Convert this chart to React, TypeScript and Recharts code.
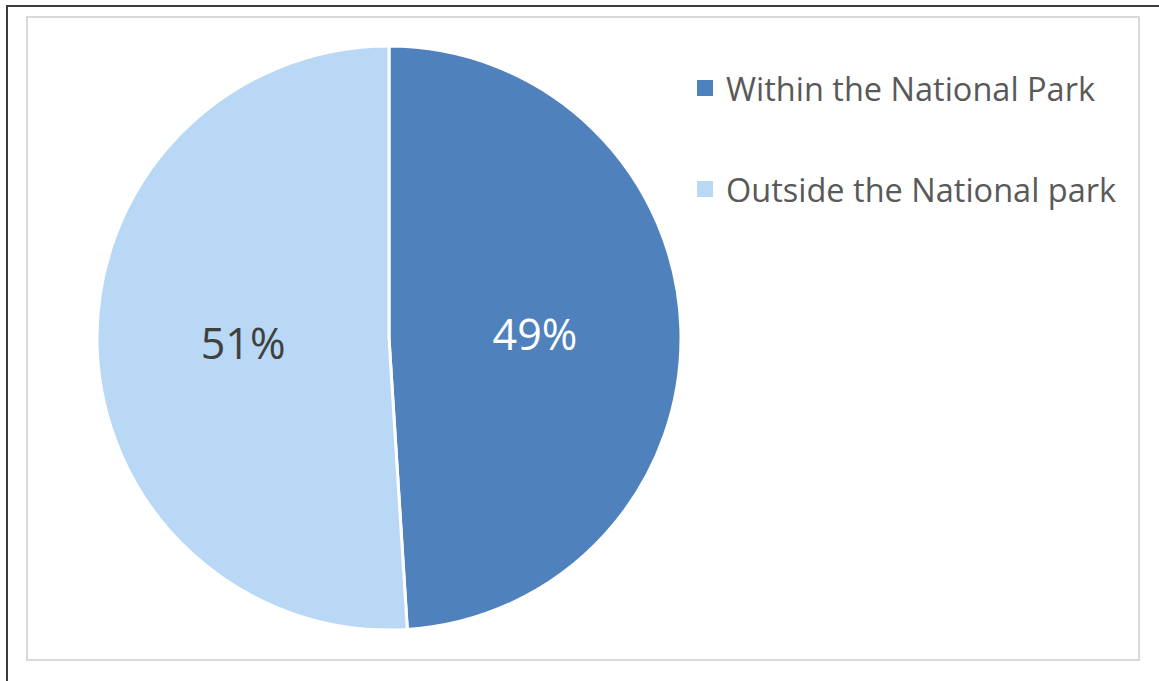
import { PieChart, Pie, Cell, Legend } from "recharts"

const categories = ["Within the National Park", "Outside the National park"]
const shares = [49, 51]
const sliceColors = ["#4F81BD", "#B8D8F5"]
const labelColors = ["#FFFFFF", "#404040"]

const data = categories.map((name, i) => ({ name, value: shares[i] }))

const RADIAN = Math.PI / 180
const FONT = "'Open Sans', 'Liberation Sans', sans-serif"

// percent labels sit halfway out from the centre, like the Excel original
const renderLabel = (props: any) => {
  const { cx, cy, midAngle, outerRadius, index, percent } = props
  const r = outerRadius * 0.5
  const x = cx + r * Math.cos(-midAngle * RADIAN)
  const y = cy + r * Math.sin(-midAngle * RADIAN)
  return (
    <text
      x={x}
      y={y}
      fill={labelColors[index]}
      textAnchor="middle"
      dominantBaseline="central"
      fontSize={43}
      fontFamily={FONT}
    >
      {`${Math.round(percent * 100)}%`}
    </text>
  )
}

const renderLegend = () => (
  <div style={{ fontFamily: FONT }}>
    {data.map((d, i) => (
      <div key={d.name} style={{ display: "flex", alignItems: "center", height: 50, marginBottom: i === 0 ? 51 : 0 }}>
        <span style={{ width: 16, height: 16, background: sliceColors[i], display: "inline-block", marginRight: 13, flexShrink: 0 }} />
        <span style={{ fontSize: 32.5, color: "#595959", whiteSpace: "nowrap" }}>{d.name}</span>
      </div>
    ))}
  </div>
)

export default function App() {
  return (
    <div style={{ position: "fixed", left: 0, top: 0, width: 1159, height: 681, background: "#fff", overflow: "hidden" }}>
      {/* outer frame, only top and left edges show */}
      <div
        style={{
          position: "absolute",
          left: 6,
          top: 5,
          width: 1153,
          height: 676,
          boxSizing: "border-box",
          borderTop: "2px solid #3c3c3c",
          borderLeft: "2px solid #3c3c3c",
        }}
      />
      <div
        style={{
          position: "absolute",
          left: 26,
          top: 16,
          width: 1114,
          height: 645,
          boxSizing: "border-box",
          border: "2px solid #d9d9d9",
          background: "#fff",
        }}
      >
        <PieChart width={1110} height={641}>
          <Pie
            data={data}
            dataKey="value"
            nameKey="name"
            cx={356}
            cy={315}
            outerRadius={292}
            startAngle={90}
            endAngle={-270}
            stroke="#ffffff"
            strokeWidth={3}
            label={renderLabel}
            labelLine={false}
            isAnimationActive={false}
          >
            {data.map((d, i) => (
              <Cell key={d.name} fill={sliceColors[i]} />
            ))}
          </Pie>
          <Legend
            content={renderLegend}
            layout="vertical"
            wrapperStyle={{ position: "absolute", left: 669, top: 45, width: 440 }}
          />
        </PieChart>
      </div>
    </div>
  )
}
